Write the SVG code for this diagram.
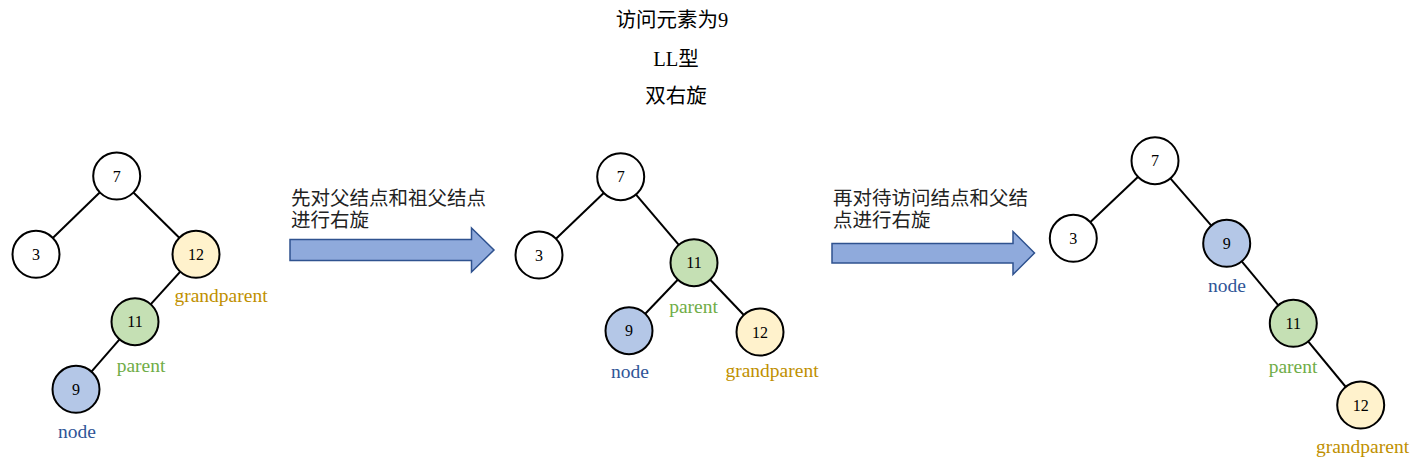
<svg xmlns="http://www.w3.org/2000/svg" width="1420" height="473" viewBox="0 0 1420 473">
<style>
.n{stroke:#000;stroke-width:2}
.w{fill:#fff}.b{fill:#B4C7E7}.g{fill:#C5E0B4}.y{fill:#FFF2CC}
.v{font-family:"Liberation Serif","Times New Roman",serif;font-size:16px;fill:#000;text-anchor:middle}
.lb{font-family:"Liberation Serif","Times New Roman",serif;font-size:19.5px;text-anchor:middle}
.cn{fill:#2F5597}.cp{fill:#70AD47}.cg{fill:#BF9000}
.t{font-family:"Liberation Serif","Noto Sans CJK SC",serif;font-size:20.5px;fill:#000;text-anchor:middle}
.at{font-family:"Liberation Sans","Noto Sans CJK SC",sans-serif;font-size:19.5px;fill:#222}
.ar{fill:#8FAADC;stroke:#2F528F;stroke-width:1.5}
.e{stroke:#000;stroke-width:2;fill:none}
</style>
<rect width="1420" height="473" fill="#fff"/>
<g id="title">
<text class="t" x="672" y="27">访问元素为9</text>
<text class="t" x="676" y="66">LL型</text>
<text class="t" x="676" y="103">双右旋</text>
</g>
<g id="connectors">
<line class="e" x1="116.7" y1="176" x2="36" y2="254.3"/>
<line class="e" x1="116.7" y1="176" x2="196" y2="254.3"/>
<line class="e" x1="196" y1="254.3" x2="135" y2="321.7"/>
<line class="e" x1="135" y1="321.7" x2="76" y2="389.3"/>
<line class="e" x1="620.7" y1="176.7" x2="539" y2="255"/>
<line class="e" x1="620.7" y1="176.7" x2="694" y2="262.7"/>
<line class="e" x1="694" y1="262.7" x2="629" y2="330.7"/>
<line class="e" x1="694" y1="262.7" x2="760" y2="332"/>
<line class="e" x1="1155" y1="160.7" x2="1073.3" y2="238.3"/>
<line class="e" x1="1155" y1="160.7" x2="1226.7" y2="243.3"/>
<line class="e" x1="1226.7" y1="243.3" x2="1293.3" y2="323.3"/>
<line class="e" x1="1293.3" y1="323.3" x2="1360.7" y2="405"/>
</g>
<g id="arrow1">
<path class="ar" d="M290,239.5 H471.5 V228 L494,250 L471.5,272 V260.5 H290 Z"/>
<text class="at" x="291" y="205">先对父结点和祖父结点</text>
<text class="at" x="291" y="227">进行右旋</text>
</g>
<g id="arrow2">
<path class="ar" d="M832,243.5 H1013 V231.5 L1034.5,253 L1013,274.5 V263 H832 Z"/>
<text class="at" x="833" y="205">再对待访问结点和父结</text>
<text class="at" x="833" y="227">点进行右旋</text>
</g>
<g id="t1-7"><circle class="n w" cx="116.7" cy="176" r="23.5"/><text class="v" x="116.7" y="181.5">7</text></g>
<g id="t1-3"><circle class="n w" cx="36" cy="254.3" r="23.5"/><text class="v" x="36" y="259.8">3</text></g>
<g id="t1-12"><circle class="n y" cx="196" cy="254.3" r="23.5"/><text class="v" x="196" y="259.8">12</text><text class="lb cg" x="221" y="301.5">grandparent</text></g>
<g id="t1-11"><circle class="n g" cx="135" cy="321.7" r="23.5"/><text class="v" x="135" y="327.2">11</text><text class="lb cp" x="141" y="371.5">parent</text></g>
<g id="t1-9"><circle class="n b" cx="76" cy="389.3" r="23.5"/><text class="v" x="76" y="394.8">9</text><text class="lb cn" x="77" y="438">node</text></g>
<g id="t2-7"><circle class="n w" cx="620.7" cy="176.7" r="23.5"/><text class="v" x="620.7" y="182.2">7</text></g>
<g id="t2-3"><circle class="n w" cx="539" cy="255" r="23.5"/><text class="v" x="539" y="260.5">3</text></g>
<g id="t2-11"><circle class="n g" cx="694" cy="262.7" r="23.5"/><text class="v" x="694" y="268.2">11</text><text class="lb cp" x="693.5" y="312.5">parent</text></g>
<g id="t2-9"><circle class="n b" cx="629" cy="330.7" r="23.5"/><text class="v" x="629" y="336.2">9</text><text class="lb cn" x="630" y="378">node</text></g>
<g id="t2-12"><circle class="n y" cx="760" cy="332" r="23.5"/><text class="v" x="760" y="337.5">12</text><text class="lb cg" x="772" y="377">grandparent</text></g>
<g id="t3-7"><circle class="n w" cx="1155" cy="160.7" r="23.5"/><text class="v" x="1155" y="166.2">7</text></g>
<g id="t3-3"><circle class="n w" cx="1073.3" cy="238.3" r="23.5"/><text class="v" x="1073.3" y="243.8">3</text></g>
<g id="t3-9"><circle class="n b" cx="1226.7" cy="243.3" r="23.5"/><text class="v" x="1226.7" y="248.8">9</text><text class="lb cn" x="1227" y="291.5">node</text></g>
<g id="t3-11"><circle class="n g" cx="1293.3" cy="323.3" r="23.5"/><text class="v" x="1293.3" y="328.8">11</text><text class="lb cp" x="1293" y="372.5">parent</text></g>
<g id="t3-12"><circle class="n y" cx="1360.7" cy="405" r="23.5"/><text class="v" x="1360.7" y="410.5">12</text><text class="lb cg" x="1362.5" y="453">grandparent</text></g>
</svg>
